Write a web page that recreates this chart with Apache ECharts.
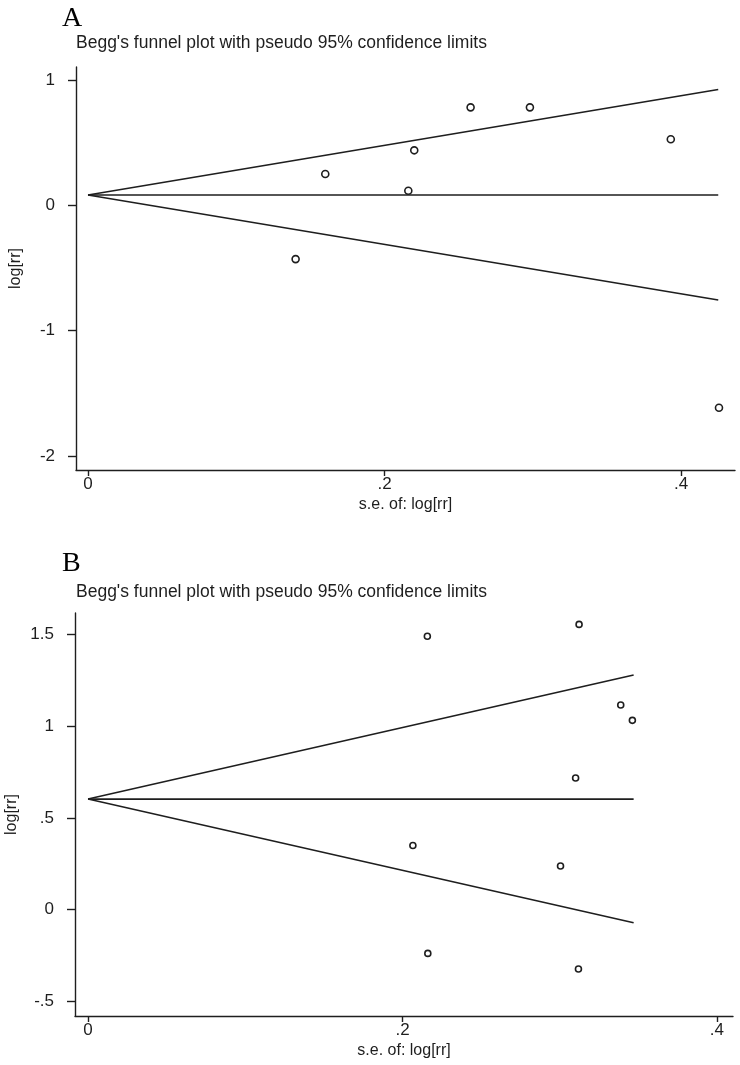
<!DOCTYPE html>
<html>
<head>
<meta charset="utf-8">
<script src="https://cdn.jsdelivr.net/npm/echarts@6/dist/echarts.min.js"></script>
<style>
  html, body { margin: 0; padding: 0; background: #ffffff; }
  #chart { width: 740px; height: 1065px; }
</style>
</head>
<body>
<div id="chart"></div>
<script>
// panel A: study points
const seA = [0.258, 0.298, 0.393, 0.220, 0.160, 0.216, 0.140, 0.4255];
const logrrA = [0.782, 0.782, 0.527, 0.439, 0.250, 0.117, -0.429, -1.615];
// panel A: pseudo 95% limits (start / end)
const limSeA = [0, 0.425];
const upperA = [0.082, 0.925];
const pooledA = [0.082, 0.082];
const lowerA = [0.082, -0.755];

// panel B: study points
const seB = [0.2158, 0.3123, 0.3388, 0.3462, 0.3101, 0.2066, 0.3005, 0.2161, 0.3119];
const logrrB = [1.490, 1.555, 1.116, 1.032, 0.718, 0.350, 0.238, -0.238, -0.323];
// panel B: pseudo 95% limits
const limSeB = [0, 0.347];
const upperB = [0.603, 1.279];
const pooledB = [0.603, 0.603];
const lowerB = [0.603, -0.071];

// tick labels
const xTicks = [0, 0.2, 0.4];
const yTicksA = [-2, -1, 0, 1];
const yTicksB = [-0.5, 0, 0.5, 1, 1.5];

const titleText = "Begg's funnel plot with pseudo 95% confidence limits";
const xName = "s.e. of: log[rr]";
const yName = "log[rr]";

const FONT = '"Liberation Sans Narrow", "Liberation Sans", Arial, sans-serif';
const INK = '#1e1e1e';

function fmt(v) {
  if (v === 0) return '0';
  return String(v).replace(/^(-?)0\./, '$1.');
}

function pairs(xs, ys) {
  return xs.map((x, i) => [x, ys[i]]);
}

function xAxisOf(gi, min, max) {
  return {
    type: 'value', gridIndex: gi, min: min, max: max,
    splitLine: { show: false },
    axisLine: { onZero: false, lineStyle: { color: INK, width: 1.4 } },
    axisTick: { show: true, length: 6, customValues: xTicks, lineStyle: { color: INK, width: 1.4 } },
    axisLabel: { customValues: xTicks, formatter: fmt, margin: 6, color: INK, fontSize: 17, fontFamily: FONT },
    name: xName, nameLocation: 'middle', nameGap: 27,
    nameTextStyle: { color: INK, fontSize: 16, fontFamily: FONT }
  };
}

function yAxisOf(gi, min, max, ticks) {
  return {
    type: 'value', gridIndex: gi, min: min, max: max,
    splitLine: { show: false },
    axisLine: { show: true, onZero: false, lineStyle: { color: INK, width: 1.4 } },
    axisTick: { show: true, length: 8, customValues: ticks, lineStyle: { color: INK, width: 1.4 } },
    axisLabel: { customValues: ticks, formatter: fmt, margin: 21, color: INK, fontSize: 17, fontFamily: FONT },
    name: yName, nameLocation: 'middle', nameGap: 52, nameRotate: 90,
    nameTextStyle: { color: INK, fontSize: 16, fontFamily: FONT }
  };
}

function lineSeries(gi, xs, ys) {
  return {
    type: 'line', xAxisIndex: gi, yAxisIndex: gi,
    data: pairs(xs, ys), symbol: 'none', silent: true,
    lineStyle: { color: INK, width: 1.6 }
  };
}

function dotSeries(gi, xs, ys, size) {
  return {
    type: 'scatter', xAxisIndex: gi, yAxisIndex: gi,
    data: pairs(xs, ys), symbol: 'circle', symbolSize: size,
    itemStyle: { color: '#ffffff', borderColor: INK, borderWidth: 1.6, opacity: 1 }
  };
}

const chart = echarts.init(document.getElementById('chart'));
chart.setOption({
  backgroundColor: '#ffffff',
  animation: false,
  graphic: [
    { type: 'text', x: 62, y: 19, style: { text: 'A', font: '28px "Liberation Serif", "Times New Roman", serif', fill: '#000', verticalAlign: 'middle' } },
    { type: 'text', x: 76, y: 43, style: { text: titleText, font: '17.5px ' + FONT, fill: INK, verticalAlign: 'middle' } },
    { type: 'text', x: 62, y: 564, style: { text: 'B', font: '28px "Liberation Serif", "Times New Roman", serif', fill: '#000', verticalAlign: 'middle' } },
    { type: 'text', x: 76, y: 592, style: { text: titleText, font: '17.5px ' + FONT, fill: INK, verticalAlign: 'middle' } }
  ],
  grid: [
    { left: 76, top: 67, width: 659, height: 403, outerBoundsMode: 'none', containLabel: false },
    { left: 75, top: 613, width: 658, height: 403, outerBoundsMode: 'none', containLabel: false }
  ],
  xAxis: [
    xAxisOf(0, -0.0081, 0.4363),
    xAxisOf(1, -0.0083, 0.4102)
  ],
  yAxis: [
    yAxisOf(0, -2.112, 1.104, yTicksA),
    yAxisOf(1, -0.579, 1.617, yTicksB)
  ],
  series: [
    lineSeries(0, limSeA, upperA),
    lineSeries(0, limSeA, pooledA),
    lineSeries(0, limSeA, lowerA),
    dotSeries(0, seA, logrrA, 7),
    lineSeries(1, limSeB, upperB),
    lineSeries(1, limSeB, pooledB),
    lineSeries(1, limSeB, lowerB),
    dotSeries(1, seB, logrrB, 6)
  ]
});
</script>
</body>
</html>
